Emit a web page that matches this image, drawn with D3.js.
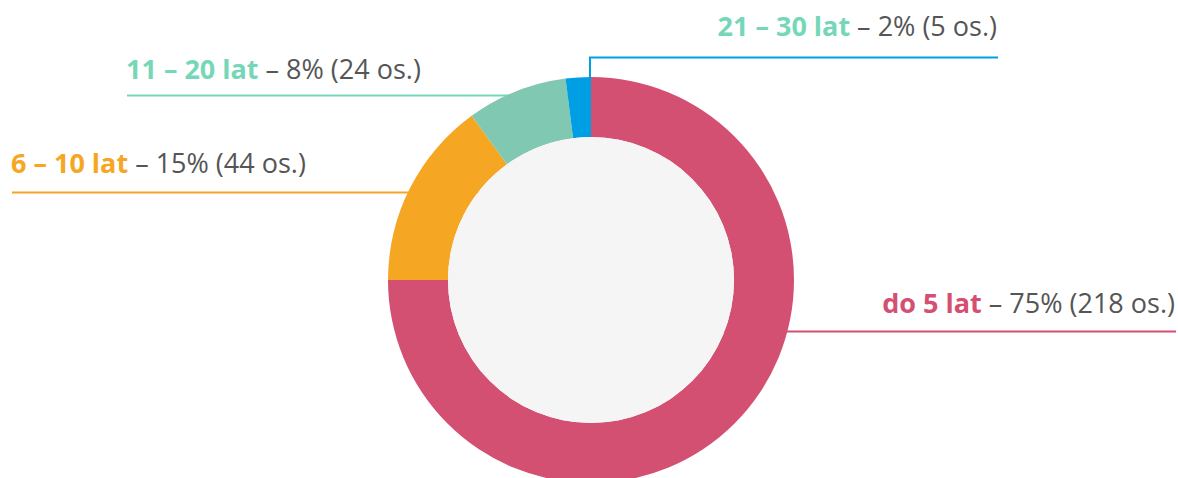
<!DOCTYPE html>
<html><head><meta charset="utf-8">
<script src="https://cdn.jsdelivr.net/npm/d3@7"></script>
<style>body{margin:0;background:#fff}svg{display:block}</style>
</head><body>
<script>
const categories = ["do 5 lat", "6 – 10 lat", "11 – 20 lat", "21 – 30 lat"];
const counts = [218, 44, 24, 5];
const percents = [75, 15, 8, 2];
const sliceColors = ["#d35073", "#f5a623", "#81c8b3", "#009fe3"];
const labelColors = ["#d35073", "#f5a623", "#76d7b8", "#76d7b8"];
const lineColors = ["#d35073", "#f5a623", "#76d7b8", "#009fe3"];

const W = 1178, H = 478;
const cx = 591, cy = 280, rOuter = 203, rInner = 143;
// label layout: [text x, baseline y, anchor, line y, line far x]
const layout = [
  {tx: 1175, ty: 313, anchor: "end", ly: 331.5, lx: 1176},
  {tx: 11, ty: 173, anchor: "start", ly: 192.5, lx: 12},
  {tx: 126, ty: 79, anchor: "start", ly: 95.5, lx: 127},
  {tx: 997, ty: 36, anchor: "end", ly: 57.5, lx: 998, vertical: true}
];

const svg = d3.select("body").append("svg").attr("width", W).attr("height", H);
const data = categories.map((c, i) => ({cat: c, n: counts[i], p: percents[i], i}));

// leader lines (under the donut)
const lines = svg.append("g");
data.forEach(d => {
  const L = layout[d.i];
  if (L.vertical) {
    lines.append("path").attr("d", `M${L.lx},${L.ly}H${cx - 1}V${cy}`)
      .attr("fill", "none").attr("stroke", lineColors[d.i]).attr("stroke-width", 2);
  } else {
    lines.append("line").attr("x1", L.lx).attr("x2", cx).attr("y1", L.ly).attr("y2", L.ly)
      .attr("stroke", lineColors[d.i]).attr("stroke-width", 2);
  }
});

const pie = d3.pie().value(d => d.p).sort(null);
const arc = d3.arc().innerRadius(rInner).outerRadius(rOuter);
const g = svg.append("g").attr("transform", `translate(${cx},${cy})`);
g.selectAll("path").data(pie(data)).join("path")
  .attr("d", arc).attr("fill", d => sliceColors[d.data.i]);
g.append("circle").attr("r", rInner).attr("fill", "#f5f5f5");

// labels
data.forEach(d => {
  const L = layout[d.i];
  const t = svg.append("text").attr("x", L.tx).attr("y", L.ty).attr("text-anchor", L.anchor)
    .attr("font-family", "'Open Sans', sans-serif").attr("font-size", 27);
  t.append("tspan").attr("font-weight", 700).attr("fill", labelColors[d.i]).text(d.cat);
  t.append("tspan").attr("fill", "#555").text(` – ${d.p}% (${d.n} os.)`);
});
</script>
</body></html>
